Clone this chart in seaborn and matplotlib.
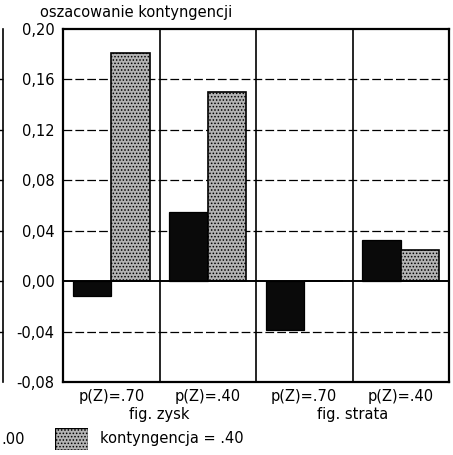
import matplotlib
matplotlib.use("Agg")
import matplotlib.pyplot as plt
import seaborn as sns
import pandas as pd

# conditions: figure type x probability of the outcome
conditions = ["zysk_70", "zysk_40", "strata_70", "strata_40"]
tick_labels = ["p(Z)=.70", "p(Z)=.40", "p(Z)=.70", "p(Z)=.40"]
group_labels = ["fig. zysk", "fig. strata"]
kont_00 = [-0.012, 0.055, -0.039, 0.033]
kont_40 = [0.181, 0.150, 0.0, 0.025]
series_names = ["kontyngencja = .00", "kontyngencja = .40"]
y_ticks = [-0.08, -0.04, 0.00, 0.04, 0.08, 0.12, 0.16, 0.20]
grid_levels = [-0.04, 0.04, 0.08, 0.12, 0.16]

df = pd.DataFrame({
    "cond": conditions * 2,
    "value": kont_00 + kont_40,
    "kont": [series_names[0]] * 4 + [series_names[1]] * 4,
})

sns.set_theme(style="white")
plt.rcParams["font.family"] = ["DejaVu Sans"]
plt.rcParams["hatch.linewidth"] = 0.7

GRAY = "#b4b4b4"
W, H = 453, 455
fig = plt.figure(figsize=(W / 100, H / 100), dpi=100)
fig.patch.set_facecolor("white")

def fx(px):
    return px / W

def fy(py):
    return 1 - py / H

ax = fig.add_axes([fx(63), fy(382), fx(449) - fx(63), fy(29) - fy(382)])

sns.barplot(data=df, x="cond", y="value", hue="kont", order=conditions,
            hue_order=series_names, palette=["#0a0a0a", GRAY],
            width=0.8, edgecolor="black", linewidth=0.9, legend=False,
            errorbar=None, ax=ax)

for bar in ax.containers[1]:
    bar.set_hatch(".....")
    bar.set_linewidth(1.2)

ax.set_xlim(-0.5, 3.5)
ax.set_ylim(-0.08, 0.20)
ax.set_yticks(y_ticks)
ax.set_yticklabels([f"{v:.2f}".replace(".", ",") for v in y_ticks])
ax.set_xticks(range(4))
ax.set_xticklabels(tick_labels)
ax.tick_params(axis="both", length=0, labelsize=10.5, colors="black")
ax.tick_params(axis="y", pad=6)
ax.tick_params(axis="x", pad=5)
ax.set_xlabel("")
ax.set_ylabel("")

for lvl in grid_levels:
    ax.axhline(lvl, color="black", linewidth=0.9, dashes=(7, 2.5), zorder=0)
ax.axhline(0, color="black", linewidth=1.4, zorder=3)
for xb in [0.5, 1.5, 2.5]:
    ax.axvline(xb, color="black", linewidth=1.2, zorder=3)

for sp in ax.spines.values():
    sp.set_visible(True)
    sp.set_color("black")
    sp.set_linewidth(1.6)

fig.text(fx(40), fy(12), "oszacowanie kontyngencji", ha="left", va="center",
         fontsize=10.5, color="black")

# category group captions under each pair of conditions
for xc, lab in zip([0.5, 2.5], group_labels):
    xd = ax.transData.transform((xc, 0))[0]
    fig.text(xd / fig.dpi / fig.get_figwidth(), fy(415), lab, ha="center",
             va="center", fontsize=10.5, color="black")

# neighbouring panel edge on the left
axl = fig.add_axes([fx(-200), fy(382), fx(203), fy(29) - fy(382)])
axl.set_ylim(-0.08, 0.20)
axl.set_xlim(0, 1)
for name, sp in axl.spines.items():
    sp.set_visible(name == "right")
axl.spines["right"].set_color("black")
axl.spines["right"].set_linewidth(1.2)
axl.set_xticks([])
axl.yaxis.tick_right()
axl.set_yticks(grid_levels + [0.0])
axl.tick_params(axis="y", direction="in", length=3, width=1, colors="black",
                labelright=False)
axl.patch.set_alpha(0)

# legend row
fig.text(fx(1), fy(439), ".00", ha="left", va="center",
         fontsize=10.5, color="black")
leg_ax = fig.add_axes([fx(55), fy(450), fx(33), fy(428) - fy(450)])
leg_ax.add_patch(plt.Rectangle((0, 0), 1, 1, facecolor=GRAY,
                               edgecolor="black", linewidth=1.0, hatch=".....",
                               transform=leg_ax.transAxes))
leg_ax.set_axis_off()
fig.text(fx(100), fy(439), series_names[1], ha="left", va="center",
         fontsize=10.5, color="black")

fig.savefig("out.png", dpi=100)
